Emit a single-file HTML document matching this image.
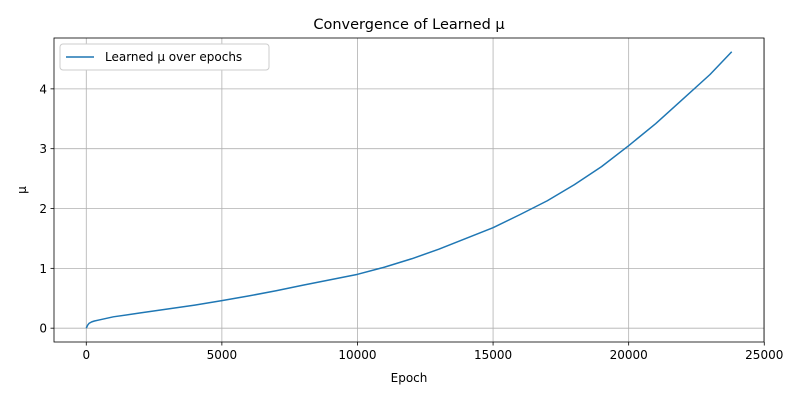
<!DOCTYPE html>
<html><head><meta charset="utf-8"><style>
body{margin:0;background:#fff;font-family:"Liberation Sans","DejaVu Sans",sans-serif;}
svg text{font-family:"DejaVu Sans","Liberation Sans",sans-serif;}
</style></head><body>
<svg id="chart" width="800" height="400" xmlns="http://www.w3.org/2000/svg"></svg>
<script>
const epochs=[0,50,100,200,300,500,1000,2000,3000,4000,5000,6000,7000,8000,9000,10000,11000,12000,13000,14000,15000,16000,17000,18000,19000,20000,21000,22000,23000,23800];
const mu=[0,0.05,0.08,0.105,0.12,0.14,0.19,0.255,0.32,0.385,0.46,0.54,0.625,0.72,0.81,0.9,1.02,1.16,1.32,1.5,1.68,1.9,2.13,2.4,2.7,3.05,3.42,3.83,4.24,4.62];
const xTicks=[0,5000,10000,15000,20000,25000];
const yTicks=[0,1,2,3,4];
const L=54,R=764,T=38,B=342;
const xmin=-1190,xmax=24990,ymin=-0.231,ymax=4.85;
const X=v=>L+(v-xmin)/(xmax-xmin)*(R-L);
const Y=v=>B-(v-ymin)/(ymax-ymin)*(B-T);
const svg=document.getElementById('chart');
const NS='http://www.w3.org/2000/svg';
function mk(tag,attrs,txt){const e=document.createElementNS(NS,tag);for(const k in attrs)e.setAttribute(k,attrs[k]);if(txt!==undefined)e.textContent=txt;svg.appendChild(e);return e;}
xTicks.forEach(t=>{
 const g=mk('line',{x1:X(t),x2:X(t),y1:T,y2:B,stroke:'#b0b0b0','stroke-width':0.8});
 
 
 mk('line',{x1:X(t),x2:X(t),y1:B,y2:B+3.5,stroke:'#000','stroke-width':0.8});
 const l=mk('text',{x:X(t),y:B+17,'text-anchor':'middle','font-size':12},String(t));
 
 
});
yTicks.forEach(t=>{
 const g=mk('line',{x1:L,x2:R,y1:Y(t),y2:Y(t),stroke:'#b0b0b0','stroke-width':0.8});
 
 
 mk('line',{x1:L-3.5,x2:L,y1:Y(t),y2:Y(t),stroke:'#000','stroke-width':0.8});
 const l=mk('text',{x:L-7,y:Y(t)+4.5,'text-anchor':'end','font-size':12},String(t));
 
 
});
const p=mk('polyline',{points:epochs.map((e,i)=>X(e)+','+Y(mu[i])).join(' '),fill:'none',stroke:'#1f77b4','stroke-width':1.5,'stroke-linejoin':'round'});


const fr=mk('rect',{x:L,y:T,width:R-L,height:B-T,fill:'none',stroke:'#000','stroke-width':0.8});


const ti=mk('text',{x:(L+R)/2,y:29,'text-anchor':'middle','font-size':14.5},'Convergence of Learned μ');


const xl=mk('text',{x:(L+R)/2,y:382,'text-anchor':'middle','font-size':12},'Epoch');


const yl=mk('text',{x:26,y:(T+B)/2,'text-anchor':'middle','font-size':12,transform:'rotate(-90 26 '+((T+B)/2)+')'},'μ');


const lg=mk('rect',{x:60,y:44,width:209,height:26,fill:'#fff',stroke:'#ccc',rx:3});


mk('line',{x1:66,x2:94,y1:57,y2:57,stroke:'#1f77b4','stroke-width':1.5});
const lt=mk('text',{x:105,y:61,'font-size':12},'Learned μ over epochs');


</script>
</body></html>
